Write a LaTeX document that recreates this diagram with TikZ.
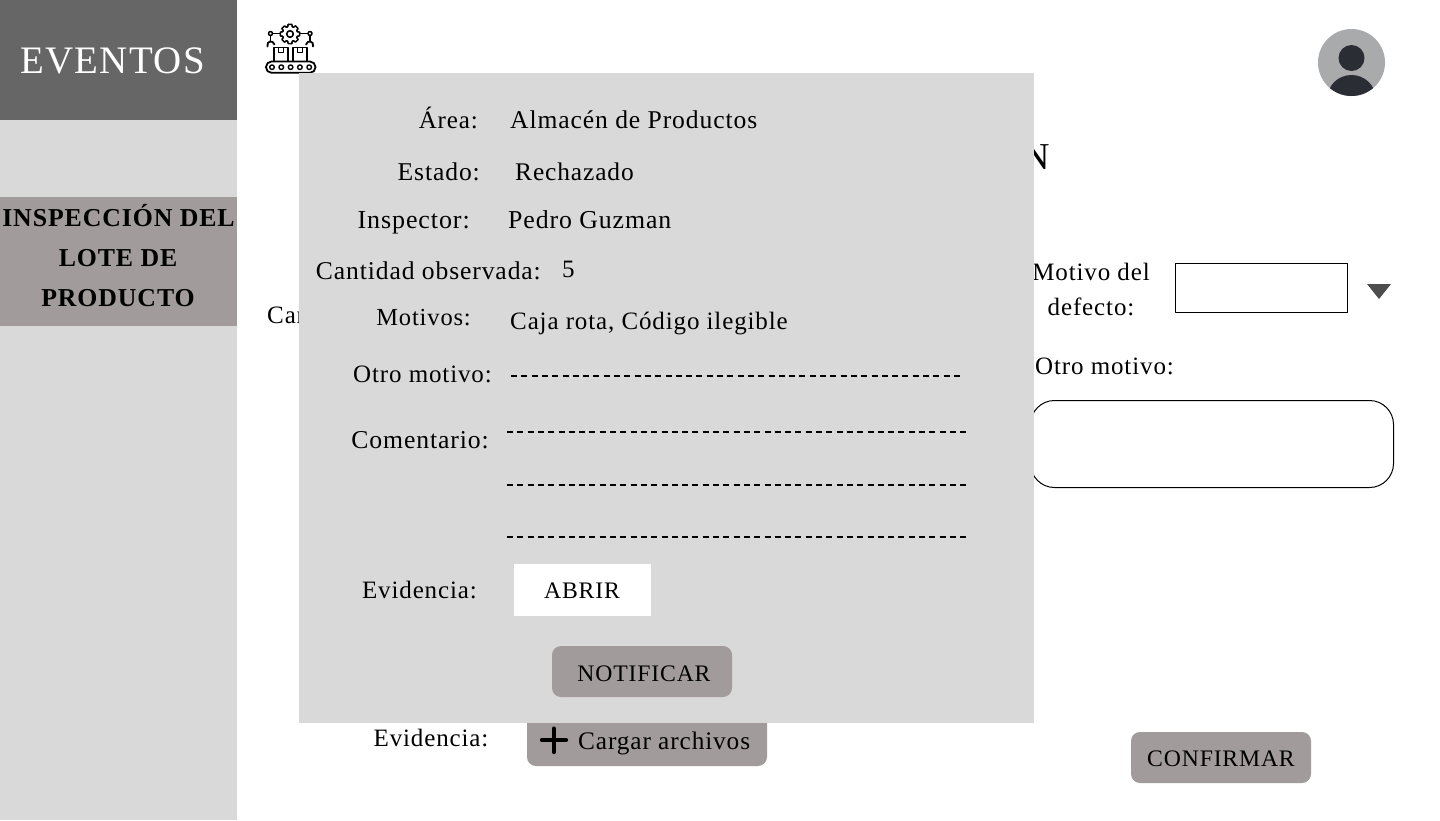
\documentclass[tikz,border=0pt]{standalone}
\usepackage{fontspec}
\setmainfont[LetterSpace=3.5]{Liberation Serif}
\usepackage{xcolor}
\usetikzlibrary{positioning}
\definecolor{mygray}{HTML}{D9D9D9}
\definecolor{mydark}{HTML}{666666}
\definecolor{mybtn}{HTML}{A19B9B}
\definecolor{myavatar}{HTML}{A9AAAC}
\definecolor{myperson}{HTML}{2A2D33}
\definecolor{myarrow}{HTML}{4D4D4D}

\begin{document}
\begin{tikzpicture}[
	x=1pt,
	y=-1pt,
	line join=round,
	fs/.style={font=\fontsize{#1}{30}\selectfont},
	lbl/.style={inner sep=0pt,fs=25,anchor=base},
	lblleft/.style={lbl,anchor=base west},
	lblright/.style={lbl,anchor=base east},
	menulbl/.style={lbl,font=\fontsize{25.8}{30}\selectfont\bfseries},
	btnlbl/.style={lbl,fs=23.7},
	btn/.style={fill=mybtn,rounded corners=9pt},
	ico/.style={line width=1.8pt,line cap=round},
	dashline/.style={line width=1.7pt,dash pattern=on 6pt off 4.3pt}
	]
	\useasboundingbox (0,0) rectangle (1440,820);
	\fill[white] (0,0) rectangle (1440,820);
	
	%------------------------------
	% Sidebar
	%------------------------------
	\fill[mygray] (0,0) rectangle (237,820);
	\fill[mydark] (0,0) rectangle (237,120);
	\fill[mybtn] (0,197) rectangle (237,326);
	\node[lbl,white,fs=38.9] (title) at (112.5,73) {EVENTOS};
	\node[menulbl] (menua) at (118.5,226) {INSPECCIÓN DEL};
	\node[menulbl] (menub) at (118,266) {LOTE DE};
	\node[menulbl] (menuc) at (118,306) {PRODUCTO};
	
	%------------------------------
	% Factory icon
	%------------------------------
	\draw[ico,rounded corners=5.5pt] (266,61.5) rectangle (315.5,72.8);
	\foreach \i in {0,...,4}{
		\draw[line width=1.4pt] (272+\i*9.3,67.2) circle (2.3);
	}
	\foreach \i in {274,293}{
		\draw[ico] (\i,61) -- (\i,47.5) -- (\i+14,47.5) -- (\i+14,61);
		\draw[line width=1.4pt] (\i+4.5,47.5) -- (\i+4.5,52.5) -- (\i+9.5,52.5) -- (\i+9.5,47.5);
	}
	\begin{scope}[shift={(290,34)}]
		\foreach \a in {0,45,...,315}{
			\draw[line width=1.5pt,line cap=round] (\a-11:9.8) -- (\a+11:9.8) -- (\a+17:7.6) -- (\a+28:7.6) -- (\a+34:9.8);
		}
		\draw[line width=1.6pt] (0,0) circle (3.3);
	\end{scope}
	\draw[line width=1.5pt] (280,33.5) -- (272.5,33.5) (300,33.5) -- (308,33.5);
	\draw[line width=1.5pt] (270.5,33.5) circle (2) (310,33.5) circle (2);
	\draw[line width=1.5pt,line cap=round] (270.5,35.5) -- (270.5,40.5) (310,35.5) -- (310,40.5);
	\draw[ico] (267.5,46.5) .. controls (266,41) and (273,39.5) .. (274.5,44.5);
	\draw[ico] (313,46.5) .. controls (314.5,41) and (307.5,39.5) .. (306,44.5);
	
	%------------------------------
	% Avatar
	%------------------------------
	\fill[myavatar] (1351.5,62.5) circle (33.5);
	\fill[myperson] (1351.5,58) circle (13);
	\begin{scope}
		\clip (1351.5,62.5) circle (33.5);
		\fill[myperson] (1351.5,98) ellipse (24 and 23);
	\end{scope}
	
	%------------------------------
	% Form behind the popup
	%------------------------------
	\node[lblleft,fs=38] (formtitle) at (1022,169.5) {N};
	\node[lblleft] (cant) at (267,323) {Can};
	\node[lbl] (motivoa) at (1091,280) {Motivo del};
	\node[lbl] (motivob) at (1091,315) {defecto:};
	\draw[line width=1pt] (1175.5,263.5) rectangle (1347.5,312.5);
	\fill[myarrow] (1367,284) -- (1391,284) -- (1379,299) -- cycle;
	\node[lblleft] (otro) at (1035,374) {Otro motivo:};
	\draw[line width=1pt,rounded corners=24pt] (1030.5,400.5) rectangle (1393.5,487.5);
	
	\node[lbl] (evid) at (431,746) {Evidencia:};
	\fill[btn] (527,700) rectangle (767,766);
	\draw[line width=4.2pt,line cap=round] (542,740) -- (566,740) (553.8,728.5) -- (553.8,752);
	\node[lblleft,fs=25.3] (cargar) at (578,749) {Cargar archivos};
	\fill[btn] (1131,732) rectangle (1311,783);
	\node[btnlbl] (confirmar) at (1221,766) {CONFIRMAR};
	
	%------------------------------
	% Popup
	%------------------------------
	\fill[mygray] (299,73) rectangle (1034,723);
	
	\node[lblright] (area) at (478,128) {Área:};
	\node[lblleft,fs=25.6] (areav) at (510,128) {Almacén de Productos};
	\node[lblright,fs=25.6] (estado) at (480,180) {Estado:};
	\node[lblleft,fs=25.4] (estadov) at (515,180) {Rechazado};
	\node[lblright,fs=26] (insp) at (470,228) {Inspector:};
	\node[lblleft,fs=25.8] (inspv) at (508,228) {Pedro Guzman};
	\node[lblright,fs=25.6] (cantobs) at (541,279) {Cantidad observada:};
	\node[lblleft] (cantobsv) at (562,277) {5};
	\node[lblright,fs=24.5] (mot) at (471,325) {Motivos:};
	\node[lblleft] (motv) at (510,329) {Caja rota, Código ilegible};
	\node[lblright] (otrom) at (492,382) {Otro motivo:};
	\node[lblright,fs=25.7] (coment) at (489,448) {Comentario:};
	
	\foreach \yy/\xa/\xb in {376/511/961,432/507/967,485/507/967,537/507/967}{
		\draw[dashline] (\xa,\yy) -- (\xb,\yy);
	}
	
	\node[lblright] (evidp) at (477,598) {Evidencia:};
	\fill[white] (514,564) rectangle (651,616);
	\node[btnlbl] (abrir) at (582,598) {ABRIR};
	\fill[btn] (552,646) rectangle (732,697);
	\node[btnlbl] (notif) at (644,681) {NOTIFICAR};
\end{tikzpicture}
\end{document}
